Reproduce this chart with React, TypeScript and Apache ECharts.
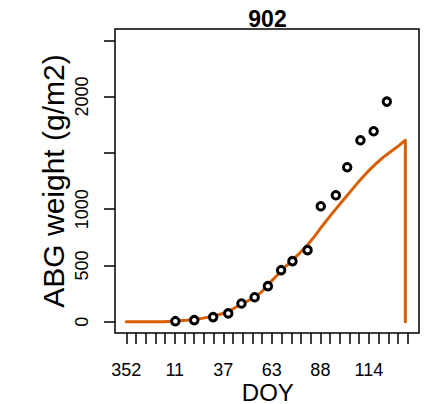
import React, { useEffect, useRef } from "react";
import * as echarts from "echarts";

// Observed above-ground biomass (day of year, g/m2)
const OBS_DOY = [12, 22, 32, 40, 47, 54, 61, 68, 74, 82, 89, 97, 103, 110, 117, 124];
const OBS_ABG = [5, 14, 41, 74, 162, 218, 316, 458, 538, 636, 1026, 1124, 1372, 1612, 1692, 1955];

// Simulated above-ground biomass (days before Jan 1 are negative)
const SIM_DOY = [-14, -10, -6, -2, 2, 6, 10, 14, 18, 22, 26, 30, 34, 38, 42, 46, 50, 54, 58, 62, 66, 70, 74, 78, 82, 86, 90, 94, 98, 102, 106, 110, 114, 118, 122, 126, 130, 133.8, 133.8];
const SIM_ABG = [0, 0, 0, 0, 0, 0, 4, 8, 13, 20, 30, 42, 58, 78, 108, 148, 182, 218, 270, 345, 415, 485, 548, 612, 682, 765, 855, 940, 1022, 1102, 1182, 1262, 1335, 1400, 1460, 1510, 1560, 1612, 0];

// Axis ticks and labels
const X_TICK_START = -14;
const X_TICK_STEP = 5.14;
const X_TICK_COUNT = 30;
const X_LABELS = ["352", "11", "37", "63", "88", "114"];
const Y_TICKS = [0, 500, 1000, 1500, 2000, 2500];
const Y_LABELS = [0, 500, 1000, 2000];

const TITLE = "902";
const X_NAME = "DOY";
const Y_NAME = "ABG weight (g/m2)";

const FONT = "'Liberation Sans', Arial, Helvetica, sans-serif";
const ORANGE = "#D95F02";

export default function App() {
  const ref = useRef<HTMLDivElement>(null);

  useEffect(() => {
    if (!ref.current) return;
    const chart = echarts.init(ref.current, null, { renderer: "svg" });

    const xTicks = Array.from({ length: X_TICK_COUNT }, (_, k) => X_TICK_START + k * X_TICK_STEP);
    const xLabelPos = xTicks.filter((_, k) => k % 5 === 0);
    const span = xTicks[xTicks.length - 1] - xTicks[0];
    const pad = span * 0.04;

    const obs = OBS_DOY.map((d, i) => [d, OBS_ABG[i]]);
    const sim = SIM_DOY.map((d, i) => [d, SIM_ABG[i]]);

    chart.setOption({
      animation: false,
      backgroundColor: "#fff",
      grid: {
        left: 115,
        top: 29,
        right: 5,
        bottom: 71,
        show: true,
        borderColor: "#000",
        borderWidth: 1.5,
        backgroundColor: "transparent",
        containLabel: false,
        outerBoundsMode: "none",
      },
      xAxis: {
        type: "value",
        min: xTicks[0] - pad,
        max: xTicks[xTicks.length - 1] + pad,
        axisLine: { show: false, onZero: false },
        splitLine: { show: false },
        axisTick: {
          show: true,
          length: 11,
          customValues: xTicks,
          lineStyle: { color: "#000", width: 1.5 },
        },
        axisLabel: {
          customValues: xLabelPos,
          margin: 28,
          color: "#000",
          fontSize: 18,
          fontFamily: FONT,
          formatter: (v: number) => {
            let best = 0;
            xLabelPos.forEach((p, i) => {
              if (Math.abs(p - v) < Math.abs(xLabelPos[best] - v)) best = i;
            });
            return X_LABELS[best];
          },
        },
      },
      yAxis: {
        type: "value",
        min: -100,
        max: 2600,
        axisLine: { show: false, onZero: false },
        splitLine: { show: false },
        axisTick: {
          show: true,
          length: 11,
          customValues: Y_TICKS,
          lineStyle: { color: "#000", width: 1.5 },
        },
        axisLabel: {
          customValues: Y_LABELS,
          rotate: 90,
          margin: 24,
          color: "#000",
          fontSize: 18,
          fontFamily: FONT,
          formatter: (v: number) => String(v),
        },
      },
      graphic: [
        {
          type: "text",
          x: 267.5,
          y: 18.5,
          style: {
            text: TITLE,
            fontSize: 23,
            fontWeight: "bold",
            fontFamily: FONT,
            fill: "#000",
            textAlign: "center",
            textVerticalAlign: "middle",
          },
        },
        {
          type: "text",
          x: 267.8,
          y: 392,
          style: {
            text: X_NAME,
            fontSize: 24,
            fontFamily: FONT,
            fill: "#000",
            textAlign: "center",
            textVerticalAlign: "middle",
          },
        },
        {
          type: "text",
          x: 53,
          y: 181,
          rotation: Math.PI / 2,
          style: {
            text: Y_NAME,
            fontSize: 30,
            fontFamily: FONT,
            fill: "#000",
            textAlign: "center",
            textVerticalAlign: "middle",
          },
        },
      ],
      series: [
        {
          type: "line",
          data: sim,
          symbol: "none",
          z: 2,
          lineStyle: { color: ORANGE, width: 3, cap: "round", join: "round" },
        },
        {
          type: "scatter",
          data: obs,
          symbol: "circle",
          symbolSize: 7.5,
          z: 3,
          itemStyle: { color: "#fff", borderColor: "#000", borderWidth: 3, opacity: 1 },
        },
      ],
    });

    return () => chart.dispose();
  }, []);

  return (
    <div
      ref={ref}
      style={{ position: "fixed", left: 0, top: 0, width: 424, height: 404, background: "#fff" }}
    />
  );
}
